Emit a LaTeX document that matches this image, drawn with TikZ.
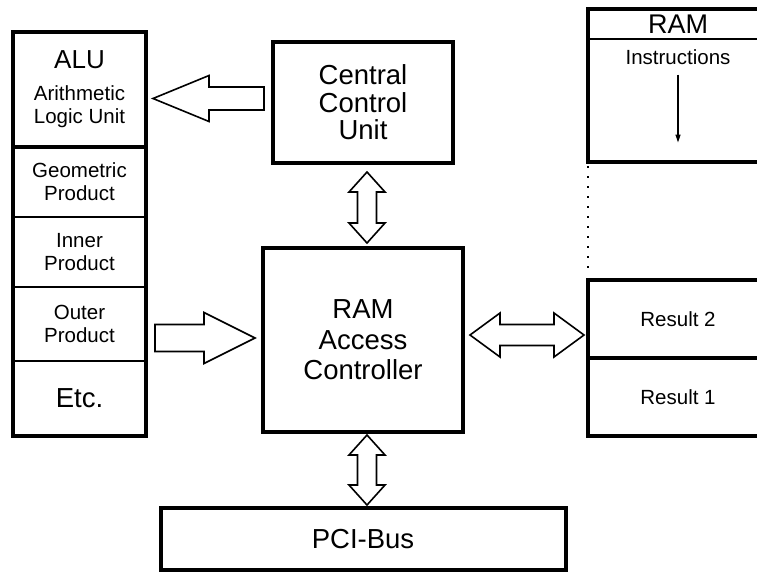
\documentclass[tikz,border=0pt]{standalone}
\usepackage{fontspec}
\setmainfont{Liberation Sans}
\usetikzlibrary{arrows.meta,positioning,calc}

\begin{document}
\begin{tikzpicture}[x=1pt,y=-1pt,node distance=0pt,
    box/.style={draw,line width=4pt,inner sep=0pt,outer sep=0pt,align=center,
                font=\fontsize{27.5}{27.5}\selectfont},
    cell/.style={minimum width=133pt,inner sep=0pt,outer sep=0pt,align=center,
                 font=\fontsize{20.5}{23}\selectfont},
    mem/.style={cell,minimum width=180pt},
    heavy/.style={line width=4pt},
    divider/.style={line width=1.5pt},
    blk/.style={draw,fill=white,line width=1.6pt,line join=miter},
    dotline/.style={line width=2pt,dash pattern=on 2pt off 8pt}]

  \path[use as bounding box,clip] (0,0) rectangle (757,574);

  % ALU with its operations
  \node[cell,minimum height=115pt] (alu) at (79.5,89.5)
       {{\fontsize{26}{26}\selectfont ALU}\\[9pt]Arithmetic\\Logic Unit};
  \node[cell,minimum height=70pt,below=of alu]   (geo)   {Geometric\\Product};
  \node[cell,minimum height=70pt,below=of geo]   (inner) {Inner\\Product};
  \node[cell,minimum height=74pt,below=of inner] (outer) {Outer\\Product};
  \node[cell,minimum height=75pt,below=of outer,
        font=\fontsize{27.5}{27.5}\selectfont]   (etc)   {Etc.};
  \draw[heavy] (alu.north west) rectangle (etc.south east);
  \draw[heavy] (alu.south west) -- (alu.south east);
  \draw[divider] (geo.south west) -- (geo.south east);
  \draw[divider] (inner.south west) -- (inner.south east);
  \draw[divider] (outer.south west) -- (outer.south east);

  % control and memory access
  \node[box,minimum width=180pt,minimum height=121pt] (ccu) at (363,102.5)
       {Central\\Control\\Unit};
  \node[box,minimum width=200pt,minimum height=184pt,below=85pt of ccu] (rac)
       {RAM\\[3pt]Access\\[3pt]Controller};
  \node[box,minimum width=405pt,minimum height=62pt,below=76pt of rac] (pci)
       {PCI-Bus};

  % RAM
  \node[box,minimum width=180pt,minimum height=153pt] (rambox) at (678,85.5) {};
  \node[mem,minimum height=30pt,below=of rambox.north,
        font=\fontsize{27}{27}\selectfont] (ram) {RAM};
  \draw[divider] (ram.south -| rambox.west) -- (ram.south -| rambox.east);
  \node[mem] (instr) at (678,57) {Instructions};
  \draw[line width=1.2pt,-{Triangle[length=8pt,width=5pt]}]
       ([yshift=-10pt]instr.south) -- ++(0,68);

  \node[box,minimum width=180pt,minimum height=156pt] (resbox) at (678,358) {};
  \node[mem,minimum height=78pt,below=of resbox.north] (res2) {Result 2};
  \node[mem,minimum height=78pt,below=of res2] (res1) {Result 1};
  \draw[heavy] (res2.south -| resbox.west) -- (res2.south -| resbox.east);
  \draw[dotline] ([yshift=-4pt]rambox.south west) -- ([yshift=8pt]resbox.north west);

  % data paths
  \draw[blk] ($(ccu.west)+(-9,-4)$) ++(0,-11.5) -- ++(-55,0) -- ++(0,-11.5)
       -- ++(-56,23) -- ++(56,23) -- ++(0,-11.5) -- ++(55,0) -- cycle;
  \draw[blk] ($(rac.west)+(-8,-2)$) -- ++(-51,-25.5) -- ++(0,12) -- ++(-49,0)
       -- ++(0,27) -- ++(49,0) -- ++(0,12) -- cycle;
  \draw[blk] ($(ccu.south)+(4,9)$) -- ++(18,20) -- ++(-8.5,0) -- ++(0,31)
       -- ++(8.5,0) -- ++(-18,20) -- ++(-18,-20) -- ++(8.5,0) -- ++(0,-31)
       -- ++(-8.5,0) -- cycle;
  \draw[blk] ($(rac.south)+(4,3)$) -- ++(18,20) -- ++(-8.5,0) -- ++(0,30)
       -- ++(8.5,0) -- ++(-18,20) -- ++(-18,-20) -- ++(8.5,0) -- ++(0,-30)
       -- ++(-8.5,0) -- cycle;
  \draw[blk] ($(rac.east)+(7,-5)$) -- ++(30,-22) -- ++(0,11.5) -- ++(54,0)
       -- ++(0,-11.5) -- ++(30,22) -- ++(-30,22) -- ++(0,-11.5) -- ++(-54,0)
       -- ++(0,11.5) -- cycle;
\end{tikzpicture}
\end{document}
